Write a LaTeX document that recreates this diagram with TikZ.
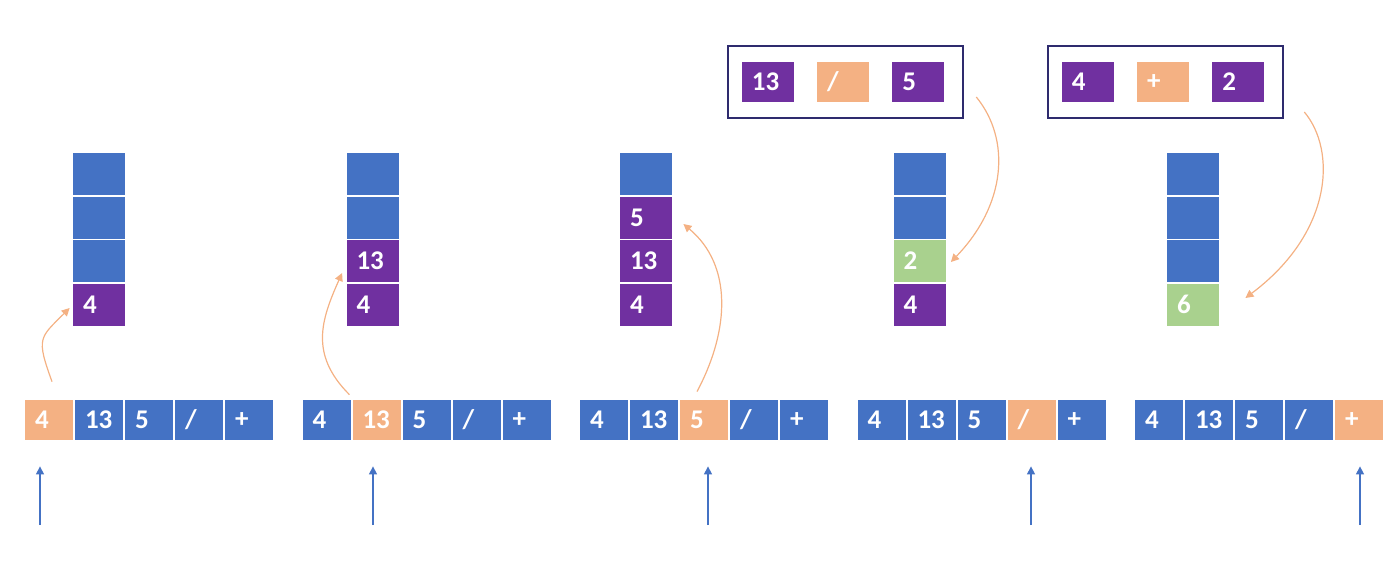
\documentclass[tikz,border=0pt]{standalone}
\usepackage{fontspec}
\setmainfont{Carlito}
\usetikzlibrary{arrows.meta,calc}
\definecolor{cblue}{HTML}{4472C4}
\definecolor{corange}{HTML}{F4B183}
\definecolor{cpurple}{HTML}{7030A0}
\definecolor{cgreen}{HTML}{A9D18E}
\definecolor{cnavy}{HTML}{2E2B6E}
\tikzset{
cell/.style={rectangle,inner xsep=5pt,inner ysep=0pt,align=left,text=white,font=\fontsize{13.5}{16}\selectfont\bfseries},
stk/.style={cell,text width=16pt,minimum height=21pt},
tok/.style={cell,text width=14pt,minimum height=20pt},
opcell/.style={cell,text width=16pt,minimum height=20pt},
opbox/.style={draw=cnavy,line width=1pt,minimum width=117.5pt,minimum height=36pt},
push/.style={draw=corange,line width=0.6pt,-{Triangle[length=4pt,width=4pt]}},
ptr/.style={draw=cblue,line width=0.7pt,-{Triangle[length=4pt,width=4pt]}}
}
\begin{document}
\begin{tikzpicture}[x=0.5pt,y=0.5pt]
\pgfmathsetmacro{\kstackx}{99}
\pgfmathsetmacro{\kstackstep}{273.5}
\pgfmathsetmacro{\kcelly}{174}
\pgfmathsetmacro{\kcellstep}{43.5}
\pgfmathsetmacro{\krowx}{49}
\pgfmathsetmacro{\krowstep}{277.5}
\pgfmathsetmacro{\ktokstep}{50}
\pgfmathsetmacro{\krowy}{420}
\useasboundingbox(0,0) rectangle (1400,-567);
% stacks
\foreach \p/\col in {1/{cblue/,cblue/,cblue/,cpurple/4},2/{cblue/,cblue/,cpurple/13,cpurple/4},3/{cblue/,cpurple/5,cpurple/13,cpurple/4},4/{cblue/,cblue/,cgreen/2,cpurple/4},5/{cblue/,cblue/,cblue/,cgreen/6}}{
\foreach \c/\v [count=\k] in \col {\node[stk,fill=\c](s\p-\k) at (\kstackx+\p*\kstackstep-\kstackstep,-\kcelly-\k*\kcellstep+\kcellstep){\v};}}
% input rows
\foreach \p in {1,...,5}{
\foreach \v [count=\k] in {4,13,5,{/},+}{\ifnum\k=\p\def\tcol{corange}\else\def\tcol{cblue}\fi
\node[tok,fill=\tcol](t\p-\k) at (\krowx+\p*\krowstep-\krowstep+\k*\ktokstep-\ktokstep,-\krowy){\v};}}
% operations
\node[opbox](b4) at (845.8,-82){};
\node[opbox](b5) at (1165.8,-82){};
\foreach \b/\items in {4/{cpurple/13,corange/{/},cpurple/5},5/{cpurple/4,corange/+,cpurple/2}}{
\foreach \c/\v [count=\k] in \items {\node[opcell,fill=\c](o\b-\k) at ($(b\b.west)+(40.5+75.3*\k-75.3,0)$){\v};}}
% pointers
\foreach \p/\x in {1/40,2/373,3/708,4/1031,5/1360}{\coordinate(p\p) at (\x,-525);
\draw[ptr,shorten >=13pt](p\p)--(p\p|-t\p-\p.south);}
% pushes
\draw[push]($(t1-1.north)+(3,18)$) .. controls +(-16,44) and +(-30,-30) .. ($(s1-4.west)+(-3,-3.5)$);
\draw[push]($(t2-2.north west)+(-2.7,5)$) .. controls +(-40,40) and +(-21,-47) .. ($(s2-3.west)+(-4,-12)$);
\draw[push]($(t3-3.north)+(-7,8)$) .. controls +(33,62) and +(49,-41) .. ($(s3-2.east)+(11,-6.5)$);
\draw[push]($(b4.east)+(12,-15)$) .. controls +(35,-43) and +(55,57) .. ($(s4-3.east)+(5,-1)$);
\draw[push]($(b5.east)+(20,-30)$) .. controls +(32,-38) and +(88,66) .. ($(s5-4.east)+(26,6.5)$);
\end{tikzpicture}
\end{document}
